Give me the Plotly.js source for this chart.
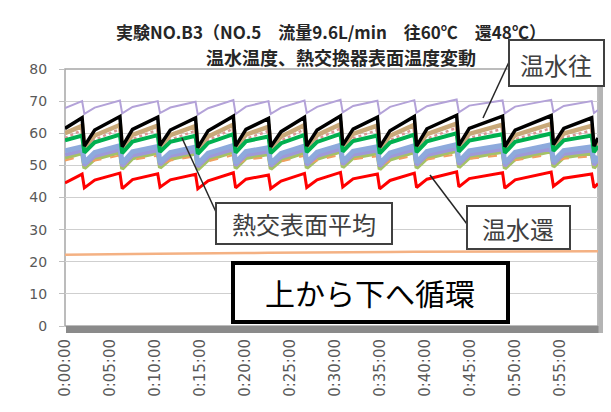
<!DOCTYPE html>
<html><head><meta charset="utf-8">
<script src="https://cdn.plot.ly/plotly-3.0.1.min.js"></script>
<style>html,body{margin:0;padding:0;background:#fff}#chart{width:611px;height:412px}</style>
</head><body><div id="chart"></div>
<script>
// time stamps (h:mm:ss)
const time = ["0:00:00",
"0:01:54","0:02:09","0:03:18",
"0:06:06","0:06:21","0:07:30",
"0:10:18","0:10:33","0:11:42",
"0:14:30","0:14:45","0:15:54",
"0:18:42","0:18:57","0:20:06",
"0:22:36","0:22:51","0:24:00",
"0:26:36","0:26:51","0:28:00",
"0:30:36","0:30:51","0:32:00",
"0:34:42","0:34:57","0:36:06",
"0:38:48","0:39:03","0:40:12",
"0:43:30","0:43:45","0:44:54",
"0:48:36","0:48:51","0:50:00",
"0:54:00","0:54:15","0:55:24",
"0:58:30","0:58:45","0:59:12"];
const tickLabels = ["0:00:00","0:05:00","0:10:00","0:15:00","0:20:00","0:25:00","0:30:00","0:35:00","0:40:00","0:45:00","0:50:00","0:55:00"];
const titleLine1 = '実験NO.B3（NO.5　流量9.6L/min　往60℃　還48℃）';
const titleLine2 = '温水温度、熱交換器表面温度変動';

const surfaceTop = [67.8, 70.0,66.0,68.0, 70.2,66.2,68.2, 70.0,66.3,68.0, 69.8,65.8,67.8, 70.3,66.0,68.3, 70.0,66.0,68.0, 70.2,66.3,68.2, 70.4,66.5,68.5, 70.1,66.0,68.2, 70.3,66.4,68.4, 70.5,66.5,68.6, 70.2,66.2,68.3, 70.4,66.6,68.5, 70.0,66.3,67.2];
const inletWater = [61.5, 64.8,56.0,61.0, 65.2,55.8,61.2, 65.0,56.2,61.0, 64.8,55.5,60.8, 65.3,56.0,61.2, 64.6,55.8,60.5, 65.0,56.0,61.0, 65.4,56.3,61.3, 65.0,55.7,60.8, 65.2,56.0,61.4, 65.6,56.2,61.5, 65.3,55.8,61.0, 65.5,56.5,61.5, 64.8,56.0,58.5];
const surfaceTan = [60.0, 62.3,55.5,59.3, 62.6,55.3,59.5, 62.4,55.8,59.4, 62.2,55.0,59.0, 62.7,55.5,59.6, 62.0,55.3,59.0, 62.5,55.6,59.4, 62.8,55.8,59.8, 62.4,55.2,59.2, 62.6,55.6,59.7, 63.0,55.8,59.8, 62.7,55.4,59.4, 62.9,56.0,59.9, 62.3,55.6,57.5];
const surfacePink = [58.5, 61.0,54.2,58.0, 61.3,54.0,58.2, 61.1,54.5,58.0, 60.8,53.8,57.8, 61.4,54.3,58.3, 60.7,54.0,57.7, 61.2,54.4,58.1, 61.5,54.6,58.4, 61.0,54.0,57.9, 61.3,54.4,58.3, 61.7,54.6,58.5, 61.4,54.2,58.1, 61.6,54.8,58.6, 60.9,54.4,56.5];
const surfaceAvg = [57.8, 59.3,54.0,57.2, 59.6,53.8,57.4, 59.4,54.2,57.3, 59.2,53.6,57.0, 59.7,54.0,57.5, 59.0,53.8,56.9, 59.5,54.1,57.3, 59.8,54.3,57.6, 59.3,53.7,57.1, 59.6,54.1,57.5, 60.0,54.3,57.7, 59.7,53.9,57.3, 59.9,54.5,57.8, 59.3,54.1,56.0];
const surfaceBlue = [54.5, 55.8,50.8,54.0, 56.1,50.6,54.2, 55.9,51.0,54.0, 55.7,50.4,53.8, 56.2,50.8,54.3, 55.5,50.6,53.7, 56.0,50.9,54.1, 56.3,51.1,54.4, 55.8,50.5,53.9, 56.1,50.9,54.3, 56.5,51.1,54.5, 56.2,50.7,54.1, 56.4,51.3,54.6, 55.8,50.9,52.8];
const surfaceLav = [53.3, 54.6,50.0,52.9, 54.9,49.8,53.1, 54.7,50.2,53.0, 54.5,49.6,52.7, 55.0,50.0,53.2, 54.3,49.8,52.6, 54.8,50.1,53.0, 55.1,50.3,53.3, 54.6,49.7,52.8, 54.9,50.1,53.2, 55.3,50.3,53.4, 55.0,49.9,53.0, 55.2,50.5,53.5, 54.6,50.1,51.7];
const surfaceOlive = [52.3, 53.8,49.1,52.0, 54.1,48.9,52.2, 53.9,49.3,52.0, 53.7,48.7,51.7, 54.2,49.1,52.3, 53.5,48.9,51.6, 54.0,49.2,52.0, 54.3,49.4,52.4, 53.8,48.8,51.8, 54.1,49.2,52.2, 54.5,49.4,52.4, 54.2,49.0,52.0, 54.4,49.6,52.5, 53.8,49.2,50.8];
const surfaceOrange = [51.5, 52.9,50.1,51.5, 53.1,49.9,51.7, 53.0,50.3,51.5, 52.8,49.8,51.3, 53.2,50.1,51.8, 52.6,49.9,51.2, 53.0,50.2,51.6, 53.3,50.4,51.9, 52.8,49.8,51.4, 53.1,50.2,51.8, 53.5,50.4,52.0, 53.2,50.0,51.6, 53.4,50.6,52.1, 52.8,50.2,51.0];
const returnWater = [44.5, 47.3,43.0,45.4, 47.6,42.8,45.6, 47.4,43.2,45.5, 47.2,42.7,45.2, 47.7,43.0,45.7, 47.0,42.8,45.1, 47.5,43.1,45.5, 47.8,43.3,45.8, 47.3,42.7,45.3, 47.6,43.1,45.7, 48.0,43.3,45.9, 47.7,42.9,45.5, 47.9,43.5,46.0, 47.3,43.1,44.3];
const roomAir = [22.2, 22.3,22.3,22.3, 22.4,22.4,22.4, 22.5,22.5,22.5, 22.6,22.6,22.6, 22.7,22.7,22.7, 22.8,22.8,22.8, 22.9,22.9,22.9, 23.0,23.0,23.0, 23.0,23.0,23.0, 23.1,23.1,23.1, 23.1,23.1,23.1, 23.2,23.2,23.2, 23.2,23.2,23.2, 23.3,23.3,23.3];

const toDate = s => { const p = s.split(':'); return '2000-01-01 ' + p[0].padStart(2,'0') + ':' + p[1] + ':' + p[2]; };
const x = time.map(toDate);

function tr(y, color, width, dash) {
  return {x: x, y: y, type: 'scatter', mode: 'lines', line: {color: color, width: width, dash: dash || 'solid'}, hoverinfo: 'skip', showlegend: false};
}
const data = [
  tr(roomAir, '#f4b183', 2.5),
  tr(surfaceTan, '#c8a878', 4.5),
  tr(surfacePink, '#d99694', 2.5, 'dot'),
  tr(surfaceOlive, '#a5c266', 4),
  tr(surfaceOrange, '#f0a060', 2, 'dash'),
  tr(surfaceLav, '#9f98d8', 4),
  tr(surfaceBlue, '#8eaadc', 5),
  tr(surfaceAvg, '#00b050', 4),
  tr(surfaceTop, '#b3a2d8', 2),
  tr(returnWater, '#ff0000', 3),
  tr(inletWater, '#000000', 3.5)
];

const L = 65, R = 598, T = 69, B = 326;
const px = v => (v - L) / (R - L);
const py = v => (B - v) / (B - T);

function rect(x0, y0, x1, y1, fill, lc, lw) {
  return {type: 'rect', xref: 'paper', yref: 'paper', x0: px(x0), x1: px(x1), y0: py(y1), y1: py(y0),
    fillcolor: fill, line: {color: lc, width: lw}, layer: 'above'};
}
function seg(x0, y0, x1, y1) {
  return {type: 'line', xref: 'paper', yref: 'paper', x0: px(x0), x1: px(x1), y0: py(y0), y1: py(y1),
    line: {color: '#262626', width: 1.5}, layer: 'above'};
}
function label(text, cx, cy, size, color, bold) {
  return {text: bold ? '<b>' + text + '</b>' : text, xref: 'paper', yref: 'paper', x: px(cx), y: py(cy), xanchor: 'center', yanchor: 'middle',
    showarrow: false, font: {family: 'Noto Sans CJK JP', size: size, color: color}};
}

const shapes = [
  {type: 'rect', xref: 'paper', yref: 'paper', x0: 0, x1: 1, y0: 0, y1: 1, line: {color: '#a6a6a6', width: 1.5}, layer: 'below'},
  rect(66, 326, 603, 333, '#8a8a8a', 'rgba(0,0,0,0)', 0),
  rect(598.5, 72, 603, 333, '#b4b4b4', 'rgba(0,0,0,0)', 0),
  seg(483, 118, 509, 62),
  seg(182, 138, 216, 212),
  seg(430, 175, 467, 224),
  rect(509, 40, 604, 86, '#ffffff', '#404040', 2),
  rect(216, 203, 392, 244, '#ffffff', '#404040', 2),
  rect(467, 206, 570, 249, '#ffffff', '#404040', 2),
  rect(233, 263, 508, 322, '#ffffff', '#000000', 4)
];

const annotations = [
  label(titleLine1, 331, 31, 17, '#262626', true),
  label(titleLine2, 341, 57, 18, '#262626', true),
  label('温水往', 556, 64, 24, '#404040'),
  label('熱交表面平均', 304, 223, 24, '#404040'),
  label('温水還', 518, 228, 24, '#404040'),
  label('上から下へ循環', 370, 292, 30, '#000000')
];

const layout = {
  width: 611, height: 412,
  margin: {l: L, r: 611 - R, t: T, b: 412 - B},
  paper_bgcolor: '#ffffff', plot_bgcolor: '#ffffff',
  xaxis: {type: 'date', range: [toDate('0:00:00'), toDate('0:59:12')],
    tickvals: tickLabels.map(toDate), ticktext: tickLabels, tickangle: -90,
    tickfont: {family: 'DejaVu Sans', size: 15, color: '#595959'},
    showgrid: false, zeroline: false, showline: false, ticks: '', ticklabelstandoff: 9},
  yaxis: {range: [0, 80], tick0: 0, dtick: 10, gridcolor: '#cfcfcf', gridwidth: 1,
    ticks: 'outside', ticklen: 5, tickcolor: '#bfbfbf',
    tickfont: {family: 'DejaVu Sans', size: 14, color: '#595959'},
    showline: false, zeroline: false, ticklabelstandoff: 9},
  shapes: shapes,
  annotations: annotations
};

Plotly.newPlot('chart', data, layout, {staticPlot: true, displayModeBar: false});
</script>
</body></html>
